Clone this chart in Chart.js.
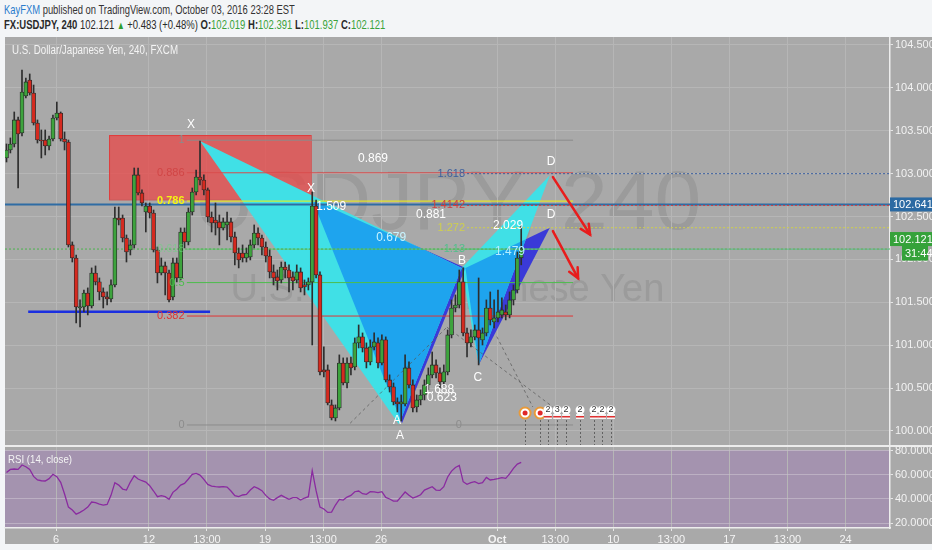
<!DOCTYPE html>
<html>
<head>
<meta charset="utf-8">
<script src="https://cdn.jsdelivr.net/npm/chart.js@4.4.0/dist/chart.umd.min.js"></script>
<style>
body { margin: 0; background: #f3f5f7; }
#wrap { position: relative; width: 932px; height: 550px; overflow: hidden; background: #f3f5f7; font-family: 'Liberation Sans', Arial, sans-serif; }
#panel { position: absolute; left: 5px; top: 37px; width: 927px; height: 507px; background: #a9a9a9; }
.hdr { position: absolute; left: 4px; white-space: nowrap; font-size: 13.5px; color: #333; transform-origin: 0 50%; }
#h1 { top: 2px; }
#h2 { top: 17px; color: #2a2a2a; }
.blue { color: #2a7ccc; }
.g { color: #3aa23a; }
.up { color: #2e9d2e; font-size: 11px; }
canvas { position: absolute; left: 0; }
#main { top: 37px; }
#rsi { top: 440px; }
#sep { position: absolute; left: 5px; top: 445px; width: 927px; height: 2px; background: #ececec; }
</style>
</head>
<body>
<div id="wrap">
  <div id="h1" class="hdr"><span class="blue">KayFXM</span> published on TradingView.com, October 03, 2016 23:28 EST</div>
  <div id="h2" class="hdr"></div>
  <div id="panel"></div>
  <canvas id="main" width="932" height="409"></canvas>
  <div id="sep"></div>
  <canvas id="rsi" width="932" height="110"></canvas>
</div>
<script>
// 4H candles, USDJPY, early Sep -> Oct 3 2016
const opens = [103.183,103.276,103.346,103.626,103.474,103.905,104.092,103.940,103.590,103.392,
103.392,103.322,103.404,103.649,103.707,103.404,103.369,102.169,102.017,101.434,
101.446,101.609,101.458,101.842,101.738,101.621,101.563,101.539,101.703,102.483,
102.483,102.250,102.110,102.169,102.985,102.775,102.553,102.623,102.541,102.110,
101.842,101.924,101.842,101.563,101.959,101.784,102.320,102.204,102.553,102.786,
102.961,102.926,102.810,102.495,102.460,102.437,102.367,102.402,102.437,102.262,
102.075,102.075,102.017,102.029,102.169,102.308,102.250,102.145,102.040,101.854,
101.796,101.761,101.912,101.877,101.796,101.761,101.854,101.703,101.703,101.738,
102.623,101.819,100.712,100.712,100.304,100.152,100.269,100.793,100.560,100.793,
100.747,101.027,101.097,100.968,100.805,100.980,101.027,100.793,101.062,100.595,
100.514,100.339,100.315,100.315,100.735,100.537,100.280,100.362,100.420,100.537,
100.654,100.770,100.677,100.572,100.689,101.120,101.434,101.469,101.738,101.143,
101.027,101.097,101.178,101.062,101.143,101.434,101.271,101.318,101.353,101.388,
101.353,101.528,101.644,102.019];
const highs = [103.346,103.416,103.719,103.660,104.208,104.115,104.162,104.033,103.626,103.509,
103.509,103.439,103.684,103.835,103.719,103.486,103.392,102.204,102.052,101.528,
101.644,101.668,101.901,101.924,101.784,101.668,101.621,101.761,102.611,102.611,
102.518,102.285,102.227,103.066,103.066,102.810,102.658,102.658,102.576,102.145,
102.017,101.970,101.877,102.017,102.017,102.367,102.367,102.600,102.833,103.043,
103.381,102.985,102.833,102.553,102.658,102.518,102.483,102.553,102.483,102.320,
102.134,102.169,102.134,102.227,102.402,102.367,102.285,102.204,102.110,101.936,
101.877,101.970,101.970,101.936,101.854,101.936,101.901,101.761,101.784,102.786,
102.693,101.854,100.980,100.770,100.362,100.304,100.887,100.852,100.852,100.863,
101.085,101.236,101.143,101.027,101.062,101.143,101.085,101.120,101.097,100.654,
100.560,100.386,100.420,100.887,100.805,100.595,100.420,100.479,100.595,100.735,
100.921,100.829,100.735,100.770,101.178,101.528,101.586,101.877,101.901,101.201,
101.178,101.236,101.784,101.201,101.528,101.621,101.528,101.644,101.551,101.469,
101.621,101.703,102.087,102.391];
const lows = [103.136,103.241,103.311,102.833,103.439,103.882,103.917,103.567,103.357,103.183,
103.218,103.276,103.381,103.626,103.381,103.276,102.145,101.970,101.260,101.213,
101.388,101.353,101.434,101.703,101.528,101.434,101.469,101.504,101.679,102.402,
102.204,101.970,102.052,102.134,102.751,102.623,102.320,102.483,102.087,101.726,
101.819,101.586,101.504,101.528,101.738,101.761,102.134,102.169,102.518,102.751,
102.868,102.751,102.437,102.320,102.285,102.169,102.343,102.227,102.204,101.936,
101.901,101.970,101.970,101.994,102.134,102.169,102.052,101.970,101.784,101.703,
101.644,101.726,101.784,101.621,101.644,101.726,101.621,101.586,101.644,101.003,
101.784,100.654,100.630,100.304,100.129,100.117,100.246,100.537,100.502,100.654,
100.712,100.968,100.921,100.735,100.770,100.945,100.735,100.770,100.572,100.455,
100.304,100.222,100.117,100.292,100.502,100.222,100.222,100.304,100.362,100.479,
100.619,100.619,100.502,100.537,100.654,101.085,101.388,101.434,101.108,100.863,
100.980,101.062,100.770,101.003,101.108,101.236,101.201,101.271,101.318,101.295,
101.318,101.469,101.609,101.937];
const closes = [103.276,103.346,103.626,103.462,103.952,104.069,103.940,103.590,103.392,103.381,
103.322,103.404,103.649,103.707,103.404,103.369,102.169,102.017,101.446,101.446,
101.609,101.458,101.842,101.738,101.621,101.563,101.539,101.703,102.483,102.460,
102.250,102.087,102.169,102.985,102.775,102.658,102.623,102.541,102.110,101.842,
101.924,101.842,101.528,101.959,101.784,102.320,102.204,102.553,102.786,102.961,
102.926,102.810,102.495,102.425,102.425,102.367,102.437,102.437,102.262,102.075,
101.994,102.017,102.075,102.169,102.308,102.250,102.145,102.040,101.854,101.784,
101.749,101.912,101.877,101.784,101.749,101.854,101.668,101.679,101.738,102.623,
101.819,100.689,100.689,100.327,100.152,100.269,100.793,100.560,100.793,100.735,
101.027,101.097,100.968,100.805,100.980,101.038,100.793,101.062,100.595,100.514,
100.339,100.315,100.339,100.735,100.537,100.269,100.362,100.420,100.537,100.654,
100.770,100.677,100.572,100.689,101.120,101.434,101.469,101.738,101.143,101.027,
101.097,101.178,101.085,101.143,101.434,101.295,101.318,101.388,101.411,101.353,
101.528,101.644,102.017,102.121];
const rsi = [61.9,64.4,64.7,64.4,68.0,66.6,64.4,58.6,55.6,55.0,
54.8,56.7,60.3,58.3,53.7,44.0,33.2,30.8,27.4,28.8,
30.8,33.2,37.4,36.8,35.7,34.9,35.4,42.9,53.4,51.4,
48.1,47.3,53.9,59.2,56.4,55.0,53.9,50.9,46.5,41.8,
42.6,41.8,39.6,45.4,47.9,51.4,52.8,56.4,60.3,61.1,
59.7,56.1,52.0,50.6,50.1,49.8,50.1,49.8,46.5,42.6,
41.8,43.2,43.7,47.3,50.1,48.7,46.8,42.9,39.9,38.8,
41.0,42.9,41.2,39.6,41.0,41.0,39.0,40.7,41.8,63.3,
46.8,33.2,31.6,28.8,29.1,34.9,39.6,39.0,41.5,42.9,
45.9,46.5,44.3,43.7,45.9,45.7,45.1,45.9,41.2,39.9,
38.2,38.2,41.8,45.7,42.9,40.7,41.8,43.4,47.3,48.7,
50.1,47.3,47.0,50.1,58.1,63.0,66.0,67.7,54.2,52.0,
53.4,54.2,52.6,53.4,57.8,55.6,56.1,56.7,57.5,57.0,
60.6,65.2,68.8,70.2];

// axis ticks (x in bar units)
const timeTicks = [12.8, 36.8, 51.8, 66.8, 81.8, 96.8, 126.8, 141.8, 156.8, 171.8, 186.8, 201.8, 216.8];
const timeLabels = ['6', '12', '13:00', '19', '13:00', '26', 'Oct', '13:00', '10', '13:00', '17', '13:00', '24'];
const priceTicks = [100, 100.5, 101, 101.5, 102, 102.5, 103, 103.5, 104, 104.5];
const rsiTicks = [20, 40, 60, 80];

// drawings (bar index, price)
const supplyBox = [[26.5, 103.45], [78.6, 102.70]];
const X1 = [50, 103.38], A1 = [101.4, 100.08], B1 = [117.6, 101.90], C1 = [122, 100.77], D1 = [140.4, 102.98];
const X2 = [79, 102.70], A2 = [102.2, 100.09], B2 = [118.6, 101.90], C2 = [122, 100.77], D2 = [140.4, 102.37];
const fib1Labels = ['1', '0.886', '0.786', '0.618', '0.5', '0.382', '0'];
const fib1Prices = [103.39, 103.01, 102.68, 102.12, 101.73, 101.34, 100.07];
const fib1Colors = ['#8c8c8c', '#d84a4a', '#f2f20c', '#62c46e', '#4cbd4c', '#e03535', '#8c8c8c'];
const fib1Range = [46.6, 146.4];
const fib2Labels = ['1.618', '1.4142', '1.272', '1.13'];
const fib2Prices = [103.00, 102.63, 102.37, 102.12];
const fib2Colors = ['#3c5f9e', '#d23c3c', '#cfcf4e', '#52c08c'];
const fib2Start = 119;
const blueLevel = 102.641;
const supportLine = [[5.6, 101.39], [52.6, 101.39]];
const ratioTexts = [
  ['0.869', 94.7, 103.18, '#ffffff'], ['1.509', 83.9, 102.61, '#ffffff'], ['0.679', 99.4, 102.25, '#c8f4ff'],
  ['0.881', 109.7, 102.52, '#ffffff'], ['2.029', 129.6, 102.39, '#ffffff'], ['1.479', 130.1, 102.09, '#b4eeff'],
  ['1.688', 111.8, 100.48, '#ffffff'], ['0.623', 112.5, 100.39, '#ffffff']
];
const pointTexts = [
  ['X', 47.7, 103.57], ['X', 78.7, 102.83], ['A', 100.9, 100.12], ['A', 101.7, 99.95],
  ['B', 117.7, 101.98], ['C', 121.8, 100.62], ['D', 140.7, 103.14], ['D', 140.7, 102.52]
];
const arrows = [[[141.2, 102.96], [150.8, 102.29]], [[141.2, 102.33], [147.7, 101.78]]];
const dashLines = [[[88.8, 100.09], [113.8, 101.21]], [[113.8, 101.21], [141.2, 100.28]], [[126.7, 101.10], [136.0, 100.28]]];
const eventBars = [134, 137.9, 139.9, 142.3, 144.6, 148.2, 151.8, 153.9, 156.2];
const eventText = ['', '', '2', '3', '2', '2', '2', '2', '2'];

const N = closes.length;
const last = N - 1;
const upColor = '#3da33d', downColor = '#d52a1f';
const gridColor = '#b6b6b6';
const xMin = -0.39, xMax = 228.3;

document.getElementById('h2').innerHTML =
  '<b>FX:USDJPY, 240</b> ' + closes[last].toFixed(3) + ' <span class="up">&#9650;</span> +0.483 (+0.48%) ' +
  '<b>O:</b><span class="g">' + opens[last].toFixed(3) + '</span> <b>H:</b><span class="g">' + highs[last].toFixed(3) +
  '</span> <b>L:</b><span class="g">' + lows[last].toFixed(3) + '</span> <b>C:</b><span class="g">' + closes[last].toFixed(3) + '</span>';
[['h1', 291], ['h2', 381]].forEach(([id, w]) => {
  const el = document.getElementById(id);
  el.style.transform = 'scaleX(' + (w / el.offsetWidth) + ')';
});

Chart.defaults.font.family = "'Liberation Sans', Arial, sans-serif";
const F = "'Liberation Sans', Arial, sans-serif";

function pt(chart, p) {
  return [chart.scales.x.getPixelForValue(p[0]), chart.scales.y.getPixelForValue(p[1])];
}
function tri(ctx, chart, pts) {
  ctx.beginPath();
  pts.forEach((p, k) => { const [x, y] = pt(chart, p); k ? ctx.lineTo(x, y) : ctx.moveTo(x, y); });
  ctx.closePath();
}
function seg(ctx, chart, a, b) {
  const [x1, y1] = pt(chart, a), [x2, y2] = pt(chart, b);
  ctx.beginPath(); ctx.moveTo(x1, y1); ctx.lineTo(x2, y2); ctx.stroke();
}
function hline(ctx, chart, i0, i1, p, color, w, dash) {
  ctx.strokeStyle = color; ctx.lineWidth = w; ctx.setLineDash(dash || []);
  seg(ctx, chart, [i0, p], [i1, p]);
  ctx.setLineDash([]);
}
function label(ctx, chart, t, i, p, color, font, align) {
  const [x, y] = pt(chart, [i, p]);
  ctx.fillStyle = color; ctx.font = font; ctx.textAlign = align || 'center'; ctx.textBaseline = 'middle';
  ctx.fillText(t, x, y);
}
function box(ctx, x, y, w, h, bg, t) {
  ctx.fillStyle = bg; ctx.fillRect(x, y - h / 2, w, h);
  ctx.fillStyle = '#ffffff'; ctx.font = '11px ' + F; ctx.textAlign = 'left'; ctx.textBaseline = 'middle';
  ctx.fillText(t, x + 3, y + 0.5);
}

const drawings = {
  id: 'drawings',
  beforeDraw(chart) {
    const { ctx, chartArea: a } = chart;
    ctx.save();
    ctx.beginPath(); ctx.rect(a.left, a.top, a.width, a.height); ctx.clip();
    ctx.fillStyle = 'rgba(105,105,105,0.22)';
    ctx.textAlign = 'center'; ctx.textBaseline = 'alphabetic';
    const cx = (a.left + a.right) / 2;
    ctx.font = '84px ' + F;
    ctx.fillText('USDJPY, 240', cx, a.top + 192);
    ctx.font = '38px ' + F;
    ctx.fillText('U.S. Dollar/Japanese Yen', cx, a.top + 264);
    ctx.restore();
  },
  beforeDatasetsDraw(chart) {
    const { ctx, chartArea: a } = chart;
    const xs = chart.scales.x;
    ctx.save();
    ctx.beginPath(); ctx.rect(a.left, a.top, a.width, a.height); ctx.clip();
    // supply zone
    const [bx1, by1] = pt(chart, supplyBox[0]), [bx2, by2] = pt(chart, supplyBox[1]);
    ctx.fillStyle = 'rgba(234,70,70,0.74)';
    ctx.fillRect(bx1, by1, bx2 - bx1, by2 - by1);
    ctx.strokeStyle = 'rgba(225,55,55,0.9)'; ctx.lineWidth = 1;
    ctx.strokeRect(bx1 + 0.5, by1 + 0.5, bx2 - bx1, by2 - by1);
    // harmonic patterns
    const pat1 = [[X1, A1, B1], [B1, C1, D1]];
    const pat2 = [[X2, A2, B2], [B2, C2, D2]];
    ctx.fillStyle = '#3a3ad8';
    pat2.forEach(t => { tri(ctx, chart, t); ctx.fill(); });
    ctx.fillStyle = '#40e0e6';
    pat1.forEach(t => { tri(ctx, chart, t); ctx.fill(); });
    pat1.forEach(t1 => {
      ctx.save(); tri(ctx, chart, t1); ctx.clip();
      ctx.fillStyle = '#1ea4ee';
      pat2.forEach(t2 => { tri(ctx, chart, t2); ctx.fill(); });
      ctx.restore();
    });
    // levels
    hline(ctx, chart, xMin, xMax, blueLevel, '#2f6ca4', 2);
    fib1Prices.forEach((p, k) => hline(ctx, chart, fib1Range[0], fib1Range[1], p, fib1Colors[k], 1));
    fib2Prices.forEach((p, k) => hline(ctx, chart, fib2Start, xMax, p, fib2Colors[k], 1, [2, 2]));
    hline(ctx, chart, xMin, xMax, closes[last], '#4bb34e', 1, [2, 2]);
    ctx.strokeStyle = '#1b2fe0'; ctx.lineWidth = 2.5;
    seg(ctx, chart, supportLine[0], supportLine[1]);
    ctx.strokeStyle = 'rgba(85,85,85,0.7)'; ctx.lineWidth = 1; ctx.setLineDash([3, 3]);
    dashLines.forEach(l => seg(ctx, chart, l[0], l[1]));
    // event lines
    ctx.strokeStyle = 'rgba(80,80,80,0.8)'; ctx.setLineDash([2, 2]);
    eventBars.forEach(b => {
      const x = Math.round(xs.getPixelForValue(b)) + 0.5;
      ctx.beginPath(); ctx.moveTo(x, a.bottom - 26); ctx.lineTo(x, a.bottom); ctx.stroke();
    });
    ctx.setLineDash([]);
    ctx.restore();
  },
  afterDatasetsDraw(chart) {
    const { ctx, chartArea: a } = chart;
    const xs = chart.scales.x, ys = chart.scales.y;
    ctx.save();
    ctx.beginPath(); ctx.rect(a.left, a.top, a.width, a.height); ctx.clip();
    const f11 = '11px ' + F, f12 = '12px ' + F;
    fib1Labels.forEach((t, k) => {
      const col = k === 2 ? '#f4f414' : (k === 3 ? 'rgba(110,210,130,0.6)' : (k === 1 ? 'rgba(205,60,60,0.75)' : fib1Colors[k]));
      label(ctx, chart, t, fib1Range[0] - 0.6, fib1Prices[k], col, (k === 2 ? 'bold ' : '') + f11, 'right');
    });
    fib2Labels.forEach((t, k) => label(ctx, chart, t, fib2Start - 0.5, fib2Prices[k], fib2Colors[k], f11, 'right'));
    label(ctx, chart, '0', 116.9, 100.07, '#8c8c8c', f11);
    ratioTexts.forEach(r => label(ctx, chart, r[0], r[1], r[2], r[3], f12));
    pointTexts.forEach(r => label(ctx, chart, r[0], r[1], r[2], '#ffffff', f12));
    // arrows
    ctx.strokeStyle = '#e81c1c'; ctx.lineWidth = 2.5; ctx.lineCap = 'round';
    arrows.forEach(([s, e]) => {
      const [x1, y1] = pt(chart, s), [x2, y2] = pt(chart, e);
      ctx.beginPath(); ctx.moveTo(x1, y1); ctx.lineTo(x2, y2); ctx.stroke();
      const ang = Math.atan2(y2 - y1, x2 - x1);
      ctx.beginPath();
      ctx.moveTo(x2 + 11 * Math.cos(ang + Math.PI - 0.45), y2 + 11 * Math.sin(ang + Math.PI - 0.45));
      ctx.lineTo(x2, y2);
      ctx.lineTo(x2 + 11 * Math.cos(ang + Math.PI + 0.45), y2 + 11 * Math.sin(ang + Math.PI + 0.45));
      ctx.stroke();
    });
    // economic events
    const ey = a.bottom - 33;
    eventBars.forEach((b, k) => {
      const x = xs.getPixelForValue(b);
      if (!eventText[k]) {
        ctx.fillStyle = '#ffffff'; ctx.strokeStyle = '#e89a3a'; ctx.lineWidth = 2;
        ctx.beginPath(); ctx.arc(x, ey, 5.5, 0, Math.PI * 2); ctx.fill(); ctx.stroke();
        ctx.fillStyle = '#e02828'; ctx.beginPath(); ctx.arc(x, ey, 2.5, 0, Math.PI * 2); ctx.fill();
      } else {
        ctx.fillStyle = '#f4f4f4';
        ctx.fillRect(x - 4, ey + 1, 8, 5);
        ctx.fillStyle = '#e03030'; ctx.fillRect(x - 4, ey + 3, 8, 1.5);
        ctx.fillStyle = '#ffffff'; ctx.beginPath(); ctx.arc(x, ey - 3, 4.5, 0, Math.PI * 2); ctx.fill();
        ctx.fillStyle = '#333'; ctx.font = '9px ' + F; ctx.textAlign = 'center'; ctx.textBaseline = 'middle';
        ctx.fillText(eventText[k], x, ey - 3);
      }
    });
    ctx.fillStyle = '#f4f4f4'; ctx.font = f12; ctx.textAlign = 'left'; ctx.textBaseline = 'middle';
    ctx.fillText('U.S. Dollar/Japanese Yen, 240, FXCM', a.left + 7, a.top + 14, 166);
    ctx.restore();
    // axis price labels
    const ax = a.right;
    box(ctx, ax, ys.getPixelForValue(blueLevel), 42, 14, '#2b6aa3', blueLevel.toFixed(3));
    const ly = ys.getPixelForValue(closes[last]);
    box(ctx, ax, ly - 10, 42, 14, '#35a23a', closes[last].toFixed(3));
    box(ctx, ax + 12, ly + 4, 26, 15, '#35a23a', '31:44');
  }
};

const bodies = closes.map((c, i) => ({ x: i, y: [opens[i], c] }));
const wicks = closes.map((c, i) => ({ x: i, y: [lows[i], highs[i]] }));

const mainChart = new Chart(document.getElementById('main'), {
  type: 'bar',
  data: {
    datasets: [
      {
        data: bodies, order: 1, grouped: false, barThickness: 4, borderWidth: 0.8, borderSkipped: false,
        borderColor: '#2a2a2a',
        backgroundColor: c => (c.raw && c.raw.y[1] >= c.raw.y[0]) ? upColor : downColor
      },
      { data: wicks, order: 2, grouped: false, barThickness: 1, backgroundColor: '#2e2e2e' }
    ]
  },
  options: {
    responsive: false,
    animation: false,
    layout: { padding: { left: 5, top: 0, right: 0, bottom: 0 } },
    plugins: { legend: { display: false }, tooltip: { enabled: false } },
    scales: {
      x: {
        type: 'linear', min: xMin, max: xMax, offset: false,
        afterBuildTicks: s => { s.ticks = timeTicks.map(v => ({ value: v })); },
        ticks: { display: false },
        grid: { color: gridColor, drawTicks: false, offset: false },
        border: { display: false },
        afterFit: s => { s.height = 0; s.paddingLeft = 0; s.paddingRight = 0; }
      },
      y: {
        position: 'right', min: 99.825, max: 104.593,
        afterBuildTicks: s => { s.ticks = priceTicks.map(v => ({ value: v })); },
        ticks: { color: '#f2f2f2', font: { size: 11 }, padding: 2, callback: v => v.toFixed(3) },
        grid: { color: gridColor, tickLength: 3, tickColor: '#e6e6e6' },
        border: { color: '#ededed', width: 1.5 },
        afterFit: s => { s.width = 42; s.paddingTop = 0; s.paddingBottom = 0; }
      }
    }
  },
  plugins: [drawings]
});

const rsiBand = {
  id: 'rsiBand',
  beforeDraw(chart) {
    const { ctx, chartArea: a } = chart;
    const y80 = chart.scales.y.getPixelForValue(80);
    ctx.save();
    ctx.fillStyle = 'rgba(150,90,190,0.28)';
    ctx.fillRect(a.left, y80, a.width, a.bottom - y80);
    ctx.restore();
  },
  afterDraw(chart) {
    const { ctx, chartArea: a } = chart;
    ctx.save();
    ctx.fillStyle = '#f4f4f4'; ctx.font = '11.5px ' + F; ctx.textAlign = 'left'; ctx.textBaseline = 'middle';
    ctx.fillText('RSI (14, close)', a.left + 3, a.top + 13, 64);
    ctx.restore();
  }
};

const rsiChart = new Chart(document.getElementById('rsi'), {
  type: 'line',
  data: {
    datasets: [{
      data: rsi.map((v, i) => ({ x: i, y: v })),
      borderColor: '#8a2ba0', borderWidth: 1.3, pointRadius: 0, tension: 0
    }]
  },
  options: {
    responsive: false,
    animation: false,
    layout: { padding: { left: 5, top: 7, right: 0, bottom: 5 } },
    plugins: { legend: { display: false }, tooltip: { enabled: false } },
    scales: {
      x: {
        type: 'linear', min: xMin, max: xMax,
        afterBuildTicks: s => { s.ticks = timeTicks.map(v => ({ value: v })); },
        ticks: {
          autoSkip: false, maxRotation: 0, padding: 2, color: '#f4f4f4',
          font: c => ({ size: 11, weight: (c.tick && c.tick.label === 'Oct') ? 'bold' : 'normal' }),
          callback: (v, k) => timeLabels[k]
        },
        grid: { color: gridColor, tickLength: 3, tickColor: '#e6e6e6' },
        border: { color: '#ededed', width: 1.5 },
        afterFit: s => { s.height = 17; s.paddingLeft = 0; s.paddingRight = 0; }
      },
      y: {
        position: 'right', min: 15.9, max: 82.9,
        afterBuildTicks: s => { s.ticks = rsiTicks.map(v => ({ value: v })); },
        ticks: { color: '#f2f2f2', font: { size: 11 }, padding: 2, callback: v => v.toFixed(4) },
        grid: { color: 'rgba(200,190,205,0.7)', tickLength: 3, tickColor: '#e6e6e6' },
        border: { color: '#ededed', width: 1.5 },
        afterFit: s => { s.width = 42; s.paddingTop = 0; s.paddingBottom = 0; }
      }
    }
  },
  plugins: [rsiBand]
});
</script>
</body>
</html>
